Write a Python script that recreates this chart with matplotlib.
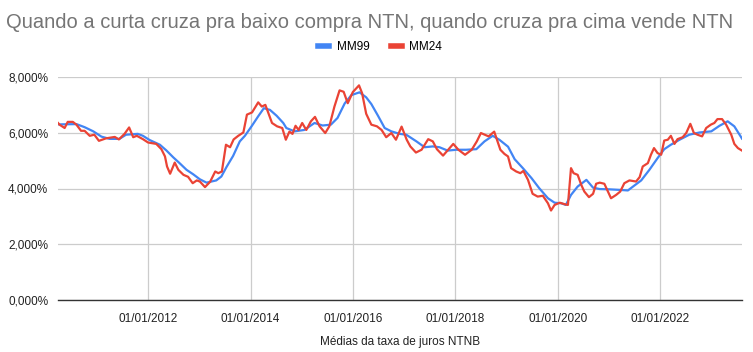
import matplotlib
matplotlib.use("Agg")
import matplotlib.pyplot as plt
import matplotlib.dates as mdates
from matplotlib.ticker import FuncFormatter, FixedLocator
import pandas as pd

# ---- data (decimal years, percent) ----
mm99_t = [2010.24, 2010.60, 2010.76, 2010.93, 2011.09, 2011.25, 2011.44, 2011.57, 2011.80, 2011.90,
          2012.03, 2012.23, 2012.36, 2012.49, 2012.62, 2012.75, 2012.88, 2013.01, 2013.14, 2013.33,
          2013.43, 2013.53, 2013.66, 2013.79, 2013.89, 2014.02, 2014.15, 2014.26, 2014.38, 2014.51,
          2014.64, 2014.70, 2014.86, 2015.05, 2015.25, 2015.41, 2015.57, 2015.70, 2015.84, 2015.97,
          2016.13, 2016.26, 2016.36, 2016.49, 2016.62, 2016.75, 2016.91, 2017.04, 2017.24, 2017.40,
          2017.56, 2017.69, 2017.85, 2018.02, 2018.21, 2018.41, 2018.57, 2018.73, 2018.86, 2019.03,
          2019.16, 2019.32, 2019.49, 2019.64, 2019.81, 2019.94, 2020.07, 2020.16, 2020.26, 2020.39,
          2020.56, 2020.69, 2020.82, 2021.01, 2021.21, 2021.37, 2021.47, 2021.63, 2021.79, 2021.95,
          2022.08, 2022.21, 2022.38, 2022.57, 2022.77, 2023.00, 2023.16, 2023.32, 2023.45, 2023.60]
mm99_v = [6.30, 6.31, 6.20, 6.05, 5.86, 5.78, 5.78, 5.93, 5.96, 5.89,
          5.74, 5.57, 5.36, 5.12, 4.90, 4.67, 4.51, 4.33, 4.21, 4.29,
          4.43, 4.77, 5.17, 5.69, 5.89, 6.23, 6.59, 6.88, 6.82, 6.61,
          6.35, 6.17, 6.05, 6.10, 6.35, 6.26, 6.29, 6.53, 7.05, 7.35,
          7.45, 7.27, 7.03, 6.61, 6.17, 6.05, 5.96, 5.93, 5.69, 5.48,
          5.51, 5.48, 5.36, 5.39, 5.39, 5.41, 5.69, 5.89, 5.75, 5.50,
          5.05, 4.73, 4.37, 4.01, 3.65, 3.49, 3.47, 3.41, 3.77, 4.07,
          4.31, 4.03, 3.98, 3.97, 3.95, 3.93, 4.07, 4.29, 4.67, 5.09,
          5.41, 5.57, 5.75, 5.93, 6.01, 6.05, 6.25, 6.41, 6.23, 5.79]

mm24_t = [2010.24, 2010.27, 2010.37, 2010.43, 2010.53, 2010.60, 2010.69, 2010.76, 2010.86, 2010.95,
          2011.04, 2011.18, 2011.35, 2011.43, 2011.54, 2011.63, 2011.71, 2011.78, 2011.90, 2012.00,
          2012.16, 2012.26, 2012.33, 2012.37, 2012.43, 2012.52, 2012.59, 2012.69, 2012.78, 2012.87,
          2012.95, 2013.01, 2013.11, 2013.21, 2013.31, 2013.37, 2013.44, 2013.52, 2013.60, 2013.67,
          2013.76, 2013.86, 2013.93, 2014.03, 2014.15, 2014.22, 2014.29, 2014.42, 2014.52, 2014.62,
          2014.69, 2014.76, 2014.82, 2014.88, 2014.94, 2015.01, 2015.09, 2015.18, 2015.26, 2015.35,
          2015.46, 2015.54, 2015.64, 2015.74, 2015.82, 2015.90, 2016.00, 2016.12, 2016.18, 2016.26,
          2016.36, 2016.47, 2016.56, 2016.65, 2016.75, 2016.84, 2016.95, 2017.05, 2017.12, 2017.23,
          2017.34, 2017.47, 2017.56, 2017.64, 2017.76, 2017.86, 2017.96, 2018.06, 2018.19, 2018.32,
          2018.42, 2018.50, 2018.65, 2018.76, 2018.88, 2018.96, 2019.03, 2019.09, 2019.19, 2019.27,
          2019.33, 2019.42, 2019.51, 2019.61, 2019.71, 2019.81, 2019.87, 2019.94, 2020.04, 2020.13,
          2020.20, 2020.26, 2020.31, 2020.39, 2020.46, 2020.52, 2020.61, 2020.69, 2020.75, 2020.82,
          2020.91, 2020.98, 2021.04, 2021.14, 2021.22, 2021.30, 2021.40, 2021.53, 2021.60, 2021.66,
          2021.76, 2021.82, 2021.88, 2021.95, 2022.02, 2022.08, 2022.15, 2022.21, 2022.28, 2022.34,
          2022.44, 2022.51, 2022.59, 2022.66, 2022.73, 2022.82, 2022.90, 2022.99, 2023.06, 2023.12,
          2023.21, 2023.29, 2023.39, 2023.45, 2023.52, 2023.60]
mm24_v = [6.35, 6.29, 6.17, 6.39, 6.39, 6.29, 6.07, 6.07, 5.89, 5.93,
          5.71, 5.80, 5.85, 5.76, 5.96, 6.19, 5.84, 5.89, 5.77, 5.65,
          5.60, 5.41, 5.15, 4.79, 4.53, 4.93, 4.67, 4.49, 4.42, 4.19,
          4.29, 4.25, 4.05, 4.24, 4.61, 4.55, 4.61, 5.57, 5.48, 5.76,
          5.89, 6.01, 6.65, 6.73, 7.09, 6.94, 7.00, 6.35, 6.23, 6.17,
          5.75, 6.04, 5.96, 6.25, 6.10, 6.35, 6.10, 6.41, 6.57, 6.23,
          5.99, 6.23, 6.94, 7.52, 7.47, 7.06, 7.46, 7.70, 7.42, 6.68,
          6.29, 6.23, 6.10, 5.84, 5.99, 5.75, 6.22, 5.75, 5.51, 5.29,
          5.39, 5.77, 5.69, 5.41, 5.18, 5.39, 5.60, 5.39, 5.21, 5.39,
          5.69, 5.99, 5.87, 6.04, 5.39, 5.24, 5.15, 4.73, 4.61, 4.55,
          4.63, 4.31, 3.81, 3.71, 3.74, 3.47, 3.21, 3.41, 3.49, 3.44,
          3.41, 4.73, 4.55, 4.49, 4.13, 3.89, 3.69, 3.81, 4.17, 4.21,
          4.17, 3.89, 3.65, 3.77, 3.89, 4.19, 4.29, 4.25, 4.41, 4.79,
          4.91, 5.21, 5.45, 5.27, 5.21, 5.72, 5.75, 5.89, 5.60, 5.77,
          5.84, 5.99, 6.32, 5.99, 5.93, 5.87, 6.17, 6.29, 6.35, 6.49,
          6.49, 6.29, 5.93, 5.60, 5.45, 5.36]

series_names = ["MM99", "MM24"]
tick_years = [2012, 2014, 2016, 2018, 2020, 2022]
y_ticks = [0, 2, 4, 6, 8]
title_text = "Quando a curta cruza pra baixo compra NTN, quando cruza pra cima vende NTN"
xlabel_text = "Médias da taxa de juros NTNB"


def to_dt(y):
    yr = int(y)
    start = pd.Timestamp(year=yr, month=1, day=1)
    end = pd.Timestamp(year=yr + 1, month=1, day=1)
    return start + (end - start) * (y - yr)


plt.rcParams['font.family'] = ['Liberation Sans', 'DejaVu Sans']

fig = plt.figure(figsize=(7.53, 3.52), dpi=100)
ax = fig.add_axes([58 / 753, 1 - 300 / 352, (742 - 58) / 753, (300 - 77) / 352])

x99 = [to_dt(t) for t in mm99_t]
x24 = [to_dt(t) for t in mm24_t]
l1, = ax.plot(x99, mm99_v, color="#4285F4", lw=1.6, label=series_names[0], zorder=3)
l2, = ax.plot(x24, mm24_v, color="#EA4335", lw=1.6, label=series_names[1], zorder=4)

ax.set_xlim(to_dt(2010.24), to_dt(2023.60))
ax.set_ylim(0, 8)
ax.xaxis.set_major_locator(FixedLocator([mdates.date2num(pd.Timestamp(year=y, month=1, day=1)) for y in tick_years]))
ax.xaxis.set_major_formatter(mdates.DateFormatter("%d/%m/%Y"))
ax.yaxis.set_major_locator(FixedLocator(y_ticks))
ax.yaxis.set_major_formatter(FuncFormatter(lambda v, p: f"{v:.3f}%".replace(".", ",")))

ax.grid(True, color="#cccccc", lw=0.9)
ax.set_axisbelow(True)
for s in ["top", "right", "left"]:
    ax.spines[s].set_visible(False)
ax.spines["bottom"].set_color("#333333")
ax.spines["bottom"].set_linewidth(1.0)
ax.spines["bottom"].set_zorder(5)
ax.tick_params(axis="both", length=0, labelsize=8.5, colors="#222222")
ax.tick_params(axis="x", pad=9)
ax.tick_params(axis="y", pad=7)

fig.text(6 / 753, 1 - 22 / 352, title_text, fontsize=14.5, color="#757575", va="center", ha="left")
fig.text(400 / 753, 1 - 342 / 352, xlabel_text, fontsize=8.5, color="#222222", va="center", ha="center")

leg = fig.legend(handles=[l1, l2], loc="center", bbox_to_anchor=(380 / 753, 1 - 47 / 352), ncol=2,
                 frameon=False, fontsize=8.5, handlelength=1.0, handletextpad=0.6, columnspacing=1.8)
for h in leg.get_lines():
    h.set_linewidth(4)

fig.savefig("out.png", dpi=100)
